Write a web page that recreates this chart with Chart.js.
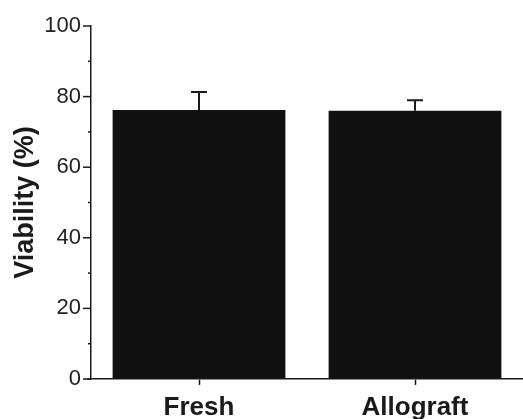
<!DOCTYPE html>
<html>
<head>
<meta charset="utf-8">
<script src="https://cdn.jsdelivr.net/npm/chart.js@4"></script>
<style>
  html, body { margin: 0; padding: 0; background: #fff; }
  #wrap { width: 523px; height: 419px; position: relative; }
</style>
</head>
<body>
<div id="wrap"><canvas id="barChart"></canvas></div>
<script>
const categories = ['Fresh', 'Allograft'];
const viability = [76.2, 76.0];
const viabilityErr = [5.1, 3.0];
const yTicks = [0, 10, 20, 30, 40, 50, 60, 70, 80, 90, 100];

const ink = '#1a1a1a';

// upper error bars + y tick marks (long on labelled ticks, short on the rest)
const extrasPlugin = {
    id: 'extras',
    afterDatasetsDraw(chart) {
        const ctx = chart.ctx;
        const y = chart.scales.y;
        const meta = chart.getDatasetMeta(0);
        ctx.save();
        ctx.strokeStyle = ink;
        ctx.lineWidth = 2;
        meta.data.forEach((bar, i) => {
            const top = y.getPixelForValue(viability[i] + viabilityErr[i]);
            const base = y.getPixelForValue(viability[i]);
            ctx.beginPath();
            ctx.moveTo(bar.x, base);
            ctx.lineTo(bar.x, top);
            ctx.moveTo(bar.x - 8, top);
            ctx.lineTo(bar.x + 8, top);
            ctx.stroke();
        });
        ctx.lineWidth = 1.5;
        yTicks.forEach(v => {
            const py = y.getPixelForValue(v);
            const len = v % 20 === 0 ? 8 : 3;
            ctx.beginPath();
            ctx.moveTo(chart.chartArea.left - len, py);
            ctx.lineTo(chart.chartArea.left, py);
            ctx.stroke();
        });
        // x axis runs a little past the y axis on the left
        const bottom = chart.chartArea.bottom;
        ctx.beginPath();
        ctx.moveTo(chart.chartArea.left - 4, bottom);
        ctx.lineTo(chart.chartArea.left, bottom);
        ctx.stroke();
        ctx.restore();
    }
};

new Chart(document.getElementById('barChart'), {
    type: 'bar',
    data: {
        labels: categories,
        datasets: [{
            label: 'Viability',
            data: viability,
            backgroundColor: '#111111',
            borderWidth: 0,
            barPercentage: 0.8,
            categoryPercentage: 1.0
        }]
    },
    options: {
        responsive: true,
        maintainAspectRatio: false,
        animation: false,
        layout: { padding: { top: 26, right: -4, left: 0, bottom: 0 } },
        plugins: {
            legend: { display: false },
            tooltip: { enabled: false }
        },
        scales: {
            x: {
                afterFit: s => { s.height = 40; },
                grid: {
                    drawOnChartArea: false,
                    offset: false,
                    tickLength: 6,
                    tickWidth: 1.5,
                    tickColor: ink
                },
                border: { display: true, color: ink, width: 1.5 },
                ticks: {
                    color: ink,
                    padding: 7,
                    font: { family: 'Liberation Sans', size: 26, weight: 'bold' }
                }
            },
            y: {
                min: 0,
                max: 100,
                afterFit: s => { s.width = 91; },
                afterBuildTicks: s => { s.ticks = yTicks.map(v => ({ value: v })); },
                grid: { drawOnChartArea: false, drawTicks: false },
                border: { display: true, color: ink, width: 1.5 },
                ticks: {
                    color: '#222222',
                    padding: 10,
                    font: { family: 'Liberation Sans', size: 22 },
                    callback: v => (v % 20 === 0 ? v : '')
                },
                title: {
                    display: true,
                    text: 'Viability (%)',
                    color: ink,
                    padding: { top: 9, bottom: 0 },
                    font: { family: 'Liberation Sans', size: 27, weight: 'bold' }
                }
            }
        }
    },
    plugins: [extrasPlugin]
});
</script>
</body>
</html>
